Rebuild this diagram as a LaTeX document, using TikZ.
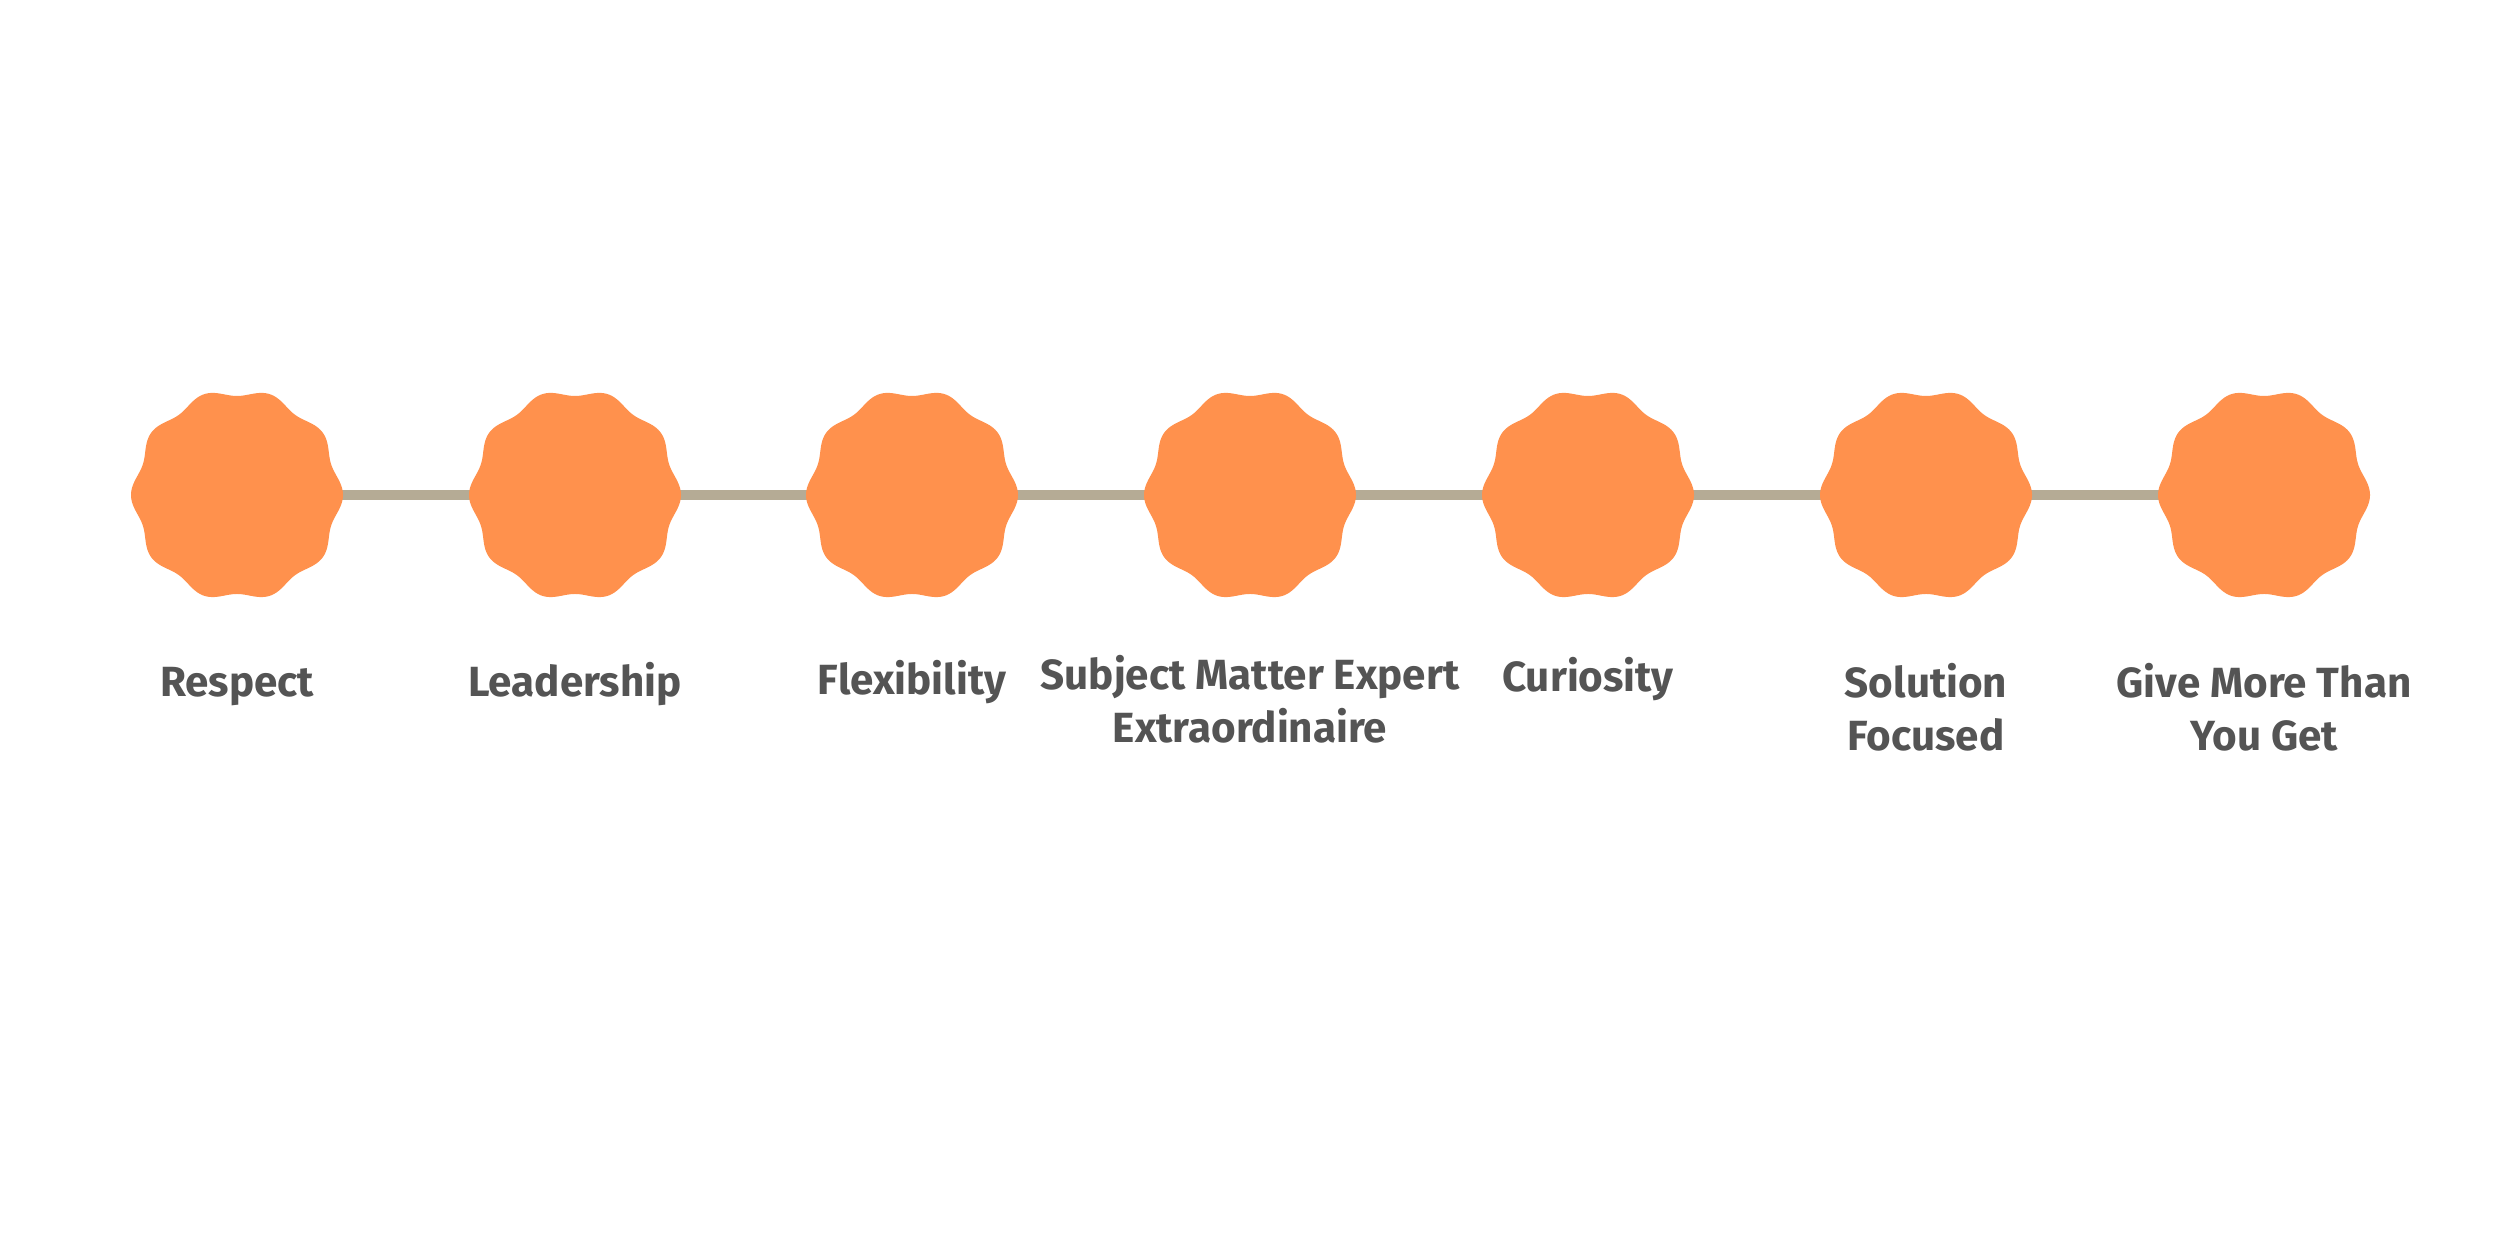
\documentclass[tikz,border=0pt]{standalone}
\usepackage{fontspec}
\setmainfont{Fira Sans}
\definecolor{BadgeOrange}{HTML}{FF914D}
\definecolor{LinkBeige}{HTML}{B5AB95}
\definecolor{LabelGray}{HTML}{545454}
\usepackage{tikz}
\usetikzlibrary{positioning}

\begin{document}
\begin{tikzpicture}[
    every node/.style={align=center},
    badge/.style={circle, minimum size=2.0cm, inner sep=0pt},
    link/.style={draw=LinkBeige, line width=2.85pt},
    caption/.style={anchor=base, inner sep=0pt, text=LabelGray,
                    font=\fontsize{12}{15.3}\selectfont\bfseries}
]
\useasboundingbox[fill=white] (0,0) rectangle (25,12.5);
% badges
\node[badge] (respect)    at (2.37,7.55) {};
\node[badge] (leader)     at (5.75,7.55) {};
\node[badge] (flex)       at (9.12,7.55) {};
\node[badge] (expert)     at (12.50,7.55) {};
\node[badge] (curious)    at (15.88,7.55) {};
\node[badge] (solution)   at (19.26,7.55) {};
\node[badge] (givemore)   at (22.64,7.55) {};
% connectors
\draw[link] (respect) -- (leader);
\draw[link] (leader) -- (flex);
\draw[link] (flex) -- (expert);
\draw[link] (expert) -- (curious);
\draw[link] (curious) -- (solution);
\draw[link] (solution) -- (givemore);
% wavy fill of each badge, on top of the line ends
\foreach \b in {respect,leader,flex,expert,curious,solution,givemore}
    \fill[BadgeOrange] plot[domain=0:359, samples=360]
        ([shift={(\b)}]\x:{1.025cm+0.035cm*cos(10*\x)}) -- cycle;
% labels (base = last line)
\node[caption] (respect-l)  at (2.37,5.53) {Respect};
\node[caption] (leader-l)   at (5.75,5.53) {Leadership};
\node[caption] (flex-l)     at (9.12,5.55) {Flexibility};
\node[caption] (expert-l)   at (12.50,5.07) {Subject Matter Expert\\Extraordinaire};
\node[caption] (curious-l)  at (15.88,5.58) {Curiosity};
\node[caption] (solution-l) at (19.26,4.99) {Solution\\Focused};
\node[caption] (givemore-l) at (22.64,4.99) {Give More Than\\You Get};
\end{tikzpicture}
\end{document}
